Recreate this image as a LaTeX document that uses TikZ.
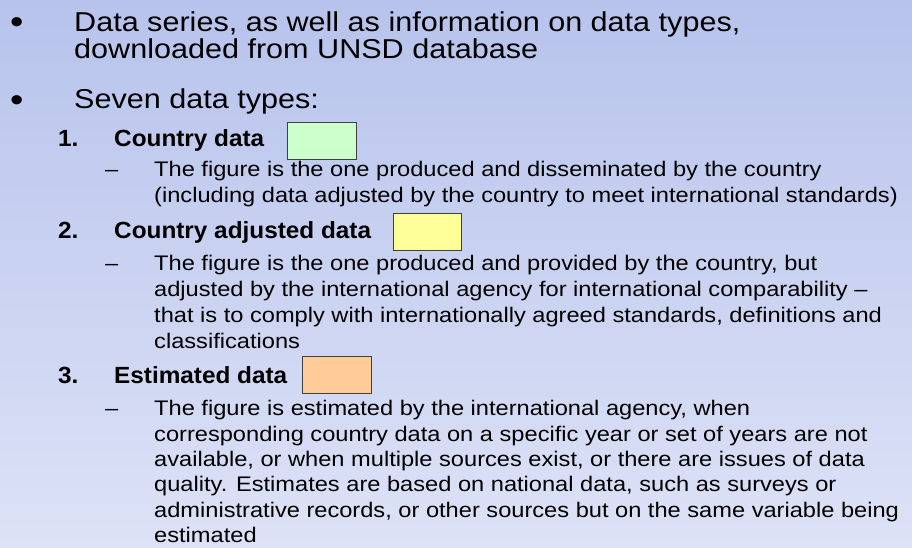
\documentclass[tikz,border=0pt]{standalone}
\usepackage{fontspec}
\setmainfont{Liberation Sans}[FakeStretch=1.12]
\newfontfamily\boldstretch{Liberation Sans}[FakeStretch=1.04]
\definecolor{bgtop}{RGB}{183,195,236}
\definecolor{bgbot}{RGB}{221,226,246}
\definecolor{boxgreen}{RGB}{204,255,204}
\definecolor{boxyellow}{RGB}{255,255,153}
\definecolor{boxorange}{RGB}{255,204,153}
\tikzset{
 lvlone/.style={anchor=base west, inner sep=0pt, font=\fontsize{27.3}{30}\selectfont},
 bulletmark/.style={anchor=base west, inner sep=0pt, font=\fontsize{34}{40}\selectfont},
 lvltwo/.style={anchor=base west, inner sep=0pt, font=\boldstretch\bfseries\fontsize{23.4}{26}\selectfont},
 lvlthree/.style={anchor=base west, inner sep=0pt, font=\fontsize{21.1}{24}\selectfont},
 swatch/.style={draw=black!75, line width=0.8pt, inner sep=0pt, anchor=north west}
}
\begin{document}
\begin{tikzpicture}[x=1pt,y=-1pt]
\shade[top color=bgtop, bottom color=bgbot] (0,0) rectangle (912,548);
\useasboundingbox (0,0) rectangle (912,548);
% level one
\node[bulletmark] (bu1) at (10,34) {•};
\node[lvlone] (t1a) at (74,31.5) {Data series, as well as information on data types,};
\node[lvlone] (t1b) at (74,58.5) {downloaded from UNSD database};
\node[bulletmark] (bu2) at (10,112) {•};
\node[lvlone] (t2) at (74,109) {Seven data types:};
% item 1
\node[lvltwo] (n1) at (58,147) {1.};
\node[lvltwo] (h1) at (114,147) {Country data};
\node[swatch, fill=boxgreen, minimum width=69pt, minimum height=37pt] (sw1) at (287,122) {};
\node[lvlthree] (d1) at (105,177) {–};
\node[lvlthree] (s1a) at (154,177) {The figure is the one produced and disseminated by the country};
\node[lvlthree] (s1b) at (154,202.5) {(including data adjusted by the country to meet international standards)};
% item 2
\node[lvltwo] (n2) at (58,238.5) {2.};
\node[lvltwo] (h2) at (114,238.5) {Country adjusted data};
\node[swatch, fill=boxyellow, minimum width=68pt, minimum height=37pt] (sw2) at (393,213) {};
\node[lvlthree] (d2) at (105,270.5) {–};
\node[lvlthree] (s2a) at (154,270.5) {The figure is the one produced and provided by the country, but};
\node[lvlthree] (s2b) at (154,296) {adjusted by the international agency for international comparability –};
\node[lvlthree] (s2c) at (154,322) {that is to comply with internationally agreed standards, definitions and};
\node[lvlthree] (s2d) at (154,348) {classifications};
% item 3
\node[lvltwo] (n3) at (58,383) {3.};
\node[lvltwo] (h3) at (114,383) {Estimated data};
\node[swatch, fill=boxorange, minimum width=69pt, minimum height=37pt] (sw3) at (302,356) {};
\node[lvlthree] (d3) at (105,415.5) {–};
\node[lvlthree] (s3a) at (154,415.5) {The figure is estimated by the international agency, when};
\node[lvlthree] (s3b) at (154,441) {corresponding country data on a specific year or set of years are not};
\node[lvlthree] (s3c) at (154,466) {available, or when multiple sources exist, or there are issues of data};
\node[lvlthree] (s3d) at (154,491.5) {quality. Estimates are based on national data, such as surveys or};
\node[lvlthree] (s3e) at (154,517) {administrative records, or other sources but on the same variable being};
\node[lvlthree] (s3f) at (154,542.5) {estimated};
\end{tikzpicture}
\end{document}
